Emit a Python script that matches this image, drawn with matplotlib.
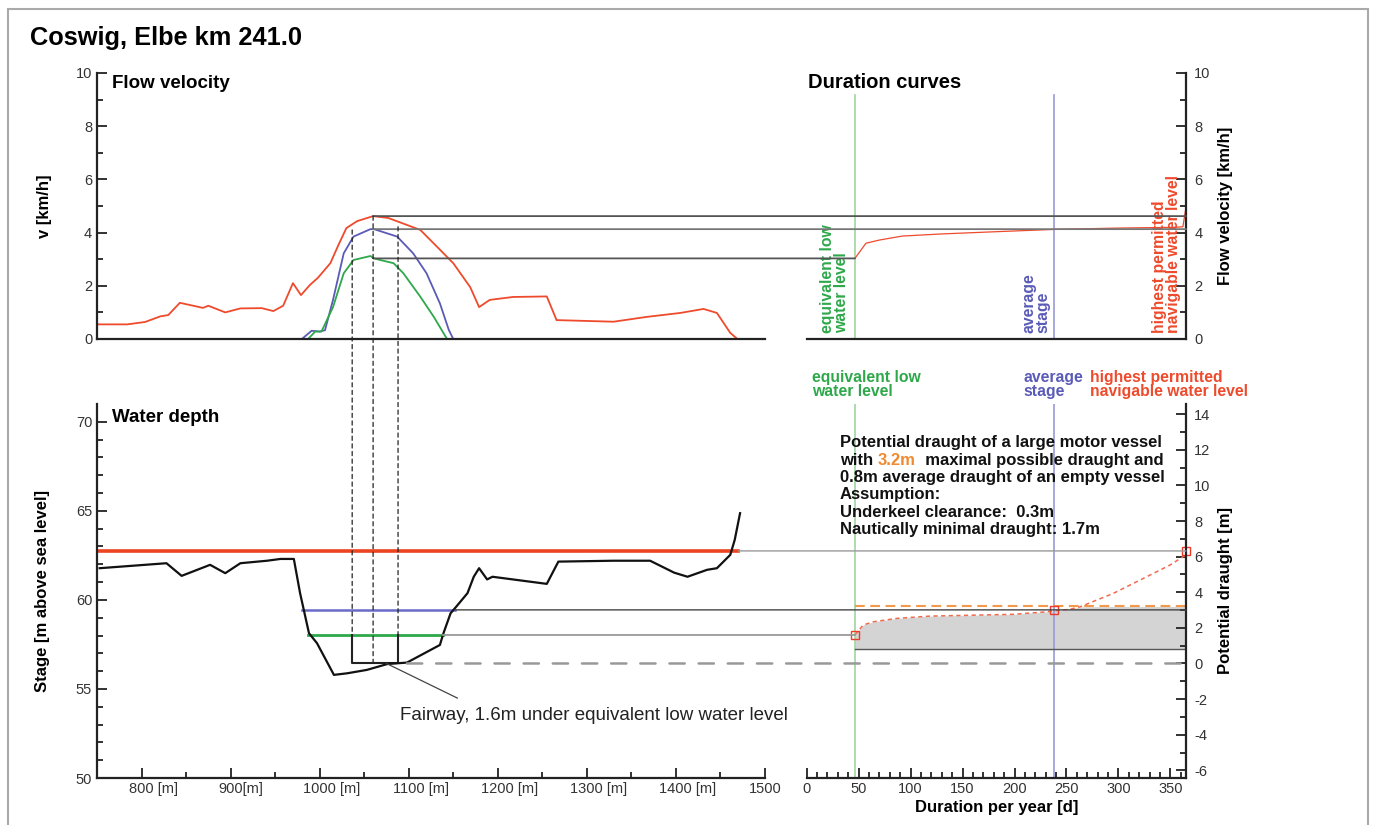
import numpy as np
import matplotlib
matplotlib.use("Agg")
import matplotlib.pyplot as plt
from matplotlib.patches import ConnectionPatch, Rectangle
from matplotlib.transforms import ScaledTranslation

plt.rcParams['font.family'] = ['Liberation Sans', 'DejaVu Sans']
plt.rcParams['lines.scale_dashes'] = False
plt.rcParams['axes.unicode_minus'] = False

# ---------------- data ----------------
# flow velocity across the section [m], [km/h]
hsw_x = [750, 784, 804, 821, 830, 843, 854, 869, 875, 894, 911, 935, 948, 959, 970, 979, 989, 998,
         1012, 1021, 1030, 1042, 1060, 1077, 1113, 1132, 1150, 1169, 1179, 1191, 1217, 1255, 1266,
         1330, 1367, 1405, 1431, 1446, 1461, 1469]
hsw_v = [0.55, 0.55, 0.64, 0.85, 0.9, 1.36, 1.28, 1.17, 1.25, 1.0, 1.15, 1.16, 1.05, 1.25, 2.1, 1.65,
         2.03, 2.3, 2.85, 3.53, 4.17, 4.43, 4.62, 4.55, 4.1, 3.46, 2.85, 1.95, 1.2, 1.47, 1.58, 1.6,
         0.71, 0.65, 0.83, 0.98, 1.13, 0.98, 0.23, 0.0]
mw_x = [980, 991, 1000, 1006, 1015, 1027, 1038, 1057, 1061, 1087, 1105, 1120, 1135, 1145, 1150]
mw_v = [0.0, 0.31, 0.28, 0.33, 1.47, 3.22, 3.85, 4.13, 4.13, 3.85, 3.22, 2.47, 1.34, 0.34, 0.0]
glw_x = [987, 995, 1002, 1015, 1027, 1038, 1057, 1061, 1068, 1083, 1094, 1113, 1128, 1143]
glw_v = [0.0, 0.28, 0.28, 1.2, 2.47, 2.97, 3.12, 3.03, 2.97, 2.85, 2.47, 1.59, 0.84, 0.0]

# river bed profile [m], [m above sea level]
bed_x = [753, 828, 845, 877, 894, 911, 941, 956, 971, 978, 988, 997, 1016, 1031, 1053, 1076, 1098,
         1135, 1139, 1147, 1154, 1166, 1173, 1179, 1188, 1194, 1255, 1268, 1330, 1371, 1398, 1413,
         1435, 1446, 1461, 1466, 1472]
bed_z = [61.78, 62.06, 61.35, 61.97, 61.5, 62.06, 62.2, 62.3, 62.3, 60.38, 58.13, 57.57, 55.79, 55.88,
         56.07, 56.4, 56.48, 57.47, 58.13, 59.25, 59.66, 60.38, 61.3, 61.78, 61.15, 61.3, 60.9, 62.15,
         62.2, 62.2, 61.53, 61.3, 61.69, 61.78, 62.53, 63.37, 64.87]

# water levels
hsw_stage, mw_stage, glw_stage = 62.75, 59.44, 58.03
fairway_bottom = 56.43
fairway_x = [1036.5, 1088]
hsw_extent = [750, 1470]
mw_extent = [980, 1152]
glw_extent = [987, 1138]
peak_x = 1060
section_x = [1036.5, 1060, 1088]
section_top = [4.1, 4.62, 4.22]
hsw_peak, mw_peak, glw_peak = 4.62, 4.13, 3.03

# duration curves [d]
glw_day, mw_day = 46.4, 237.8
dur_d = [46.4, 57, 70, 92, 130, 180, 237.8, 300, 355, 362, 365]
dur_v = [3.03, 3.6, 3.72, 3.87, 3.95, 4.03, 4.12, 4.17, 4.2, 4.22, 4.95]
dr_d = [46.4, 54.4, 64, 86.5, 118.6, 166.6, 198.5, 230.5, 237.8, 253, 263, 294.8, 326.8, 349.4, 365]
dr_h = [1.6, 2.16, 2.34, 2.53, 2.66, 2.72, 2.76, 2.9, 2.96, 3.04, 3.18, 3.93, 4.86, 5.52, 6.1]
max_draught, empty_draught = 3.2, 0.8
hsw_draught = 6.32

RED = '#ee4a2c'
BLUE = '#5a5ab8'
GREEN = '#2ea84a'
ORANGE = '#f39a4a'

W, H = 1375, 825


def rect(x0, y0, x1, y1):
    return [x0 / W, 1 - y1 / H, (x1 - x0) / W, (y1 - y0) / H]


def fx(px):
    return px / W


def fy(py):
    return 1 - py / H


fig = plt.figure(figsize=(W / 100, H / 100), dpi=100)
fig.add_artist(Rectangle((fx(8), -0.1), fx(1368 - 8), 1.1 - 9 / H, transform=fig.transFigure,
                         fill=False, ec='#aaaaaa', lw=1.5))
fig.text(fx(30), fy(38), 'Coswig, Elbe km 241.0', fontsize=18.3, weight='bold', va='center')

ax_tl = fig.add_axes(rect(97, 73, 765, 339))
ax_tr = fig.add_axes(rect(806.7, 73, 1186, 339))
ax_bl = fig.add_axes(rect(97, 404, 765, 778))
ax_br = fig.add_axes(rect(806.7, 404, 1186, 778))

for ax in (ax_tl, ax_tr, ax_bl, ax_br):
    ax.set_facecolor('none')
    ax.spines['top'].set_visible(False)
    for s in ax.spines.values():
        s.set_linewidth(1.6)
        s.set_color('#222222')
    ax.tick_params(which='both', direction='in', width=1.3, colors='#222222',
                   labelcolor='#333333', labelsize=10.5)
    ax.tick_params(which='major', length=7)
    ax.tick_params(which='minor', length=4)
for ax in (ax_tl, ax_bl):
    ax.spines['right'].set_visible(False)
    ax.set_xlim(750, 1500)
for ax in (ax_tr, ax_br):
    ax.spines['left'].set_visible(False)
    ax.set_xlim(0, 365)
    ax.yaxis.tick_right()
    ax.yaxis.set_label_position('right')
    ax.tick_params(axis='y', which='both', pad=6)

# ---- top left: flow velocity ----
ax_tl.set_ylim(0, 10)
ax_tl.set_yticks(range(0, 11, 2))
ax_tl.set_yticks(range(1, 10, 2), minor=True)
ax_tl.tick_params(axis='x', bottom=False, labelbottom=False)
ax_tl.plot(hsw_x, hsw_v, color=RED, lw=1.3)
ax_tl.plot(mw_x, mw_v, color=BLUE, lw=1.3)
ax_tl.plot(glw_x, glw_v, color=GREEN, lw=1.3)
ax_tl.set_ylabel('v [km/h]', fontsize=12, weight='bold')
ax_tl.yaxis.set_label_coords((52 - 97) / 668, 0.5)
fig.text(fx(112), fy(84), 'Flow velocity', fontsize=13.5, weight='bold', va='center')

# ---- top right: duration curve of velocity ----
ax_tr.set_ylim(0, 10)
ax_tr.set_yticks(range(0, 11, 2))
ax_tr.set_yticks(range(1, 10, 2), minor=True)
ax_tr.tick_params(axis='x', bottom=False, labelbottom=False)
ax_tr.plot([glw_day, glw_day], [0, 9.17], color='#9fd49f', lw=1.2)
ax_tr.plot([mw_day, mw_day], [0, 9.17], color='#9a9ad6', lw=1.2)
ax_tr.plot(dur_d, dur_v, color=RED, lw=0.9)
ax_tr.set_ylabel('Flow velocity [km/h]', fontsize=12, weight='bold')
ax_tr.yaxis.set_label_coords((1218 - 806.7) / 379.3, 0.5)
fig.text(fx(808), fy(82), 'Duration curves', fontsize=14.5, weight='bold', va='center')
vkw = dict(rotation=90, ha='right', va='bottom', multialignment='left', fontsize=11.3,
           weight='bold', linespacing=0.92)
ax_tr.text(40.5, 0.23, 'equivalent low\nwater level', color=GREEN, **vkw)
ax_tr.text(234.5, 0.23, 'average\nstage', color=BLUE, **vkw)
ax_tr.text(360.5, 0.23, 'highest permitted\nnavigable water level', color=RED, **vkw)

# ---- bottom left: water depth ----
ax_bl.set_ylim(50, 71)
ax_bl.set_yticks(range(50, 71, 5))
ax_bl.set_yticks([v for v in range(51, 71) if v % 5], minor=True)
xt = [800, 900, 1000, 1100, 1200, 1300, 1400, 1500]
xl = ['800 [m]', '900[m]', '1000 [m]', '1100 [m]', '1200 [m]', '1300 [m]', '1400 [m]', '1500']
ax_bl.set_xticks(xt)
ax_bl.set_xticklabels(xl)
ax_bl.set_xticks(range(750, 1500, 100), minor=True)
ax_bl.tick_params(axis='x', pad=3)
for lab in ax_bl.get_xticklabels():
    t = lab.get_text()
    off = 12 if ' [m]' in t else (10 if '[m]' in t else 0)
    lab.set_transform(lab.get_transform() + ScaledTranslation(off / 100, 0, fig.dpi_scale_trans))
ax_bl.plot(hsw_extent, [hsw_stage] * 2, color='#ec4420', lw=2.6)
ax_bl.plot(mw_extent, [mw_stage] * 2, color='#6a6ac8', lw=1.8)
ax_bl.plot(glw_extent, [glw_stage] * 2, color=GREEN, lw=2.0)
ax_bl.plot([fairway_x[0], fairway_x[0], fairway_x[1], fairway_x[1]],
           [glw_stage, fairway_bottom, fairway_bottom, glw_stage], color='#222222', lw=1.5)
ax_bl.plot(bed_x, bed_z, color='#111111', lw=1.6, clip_on=False)
ax_bl.plot([1075, 1154.5], [56.43, 54.49], color='#444444', lw=0.9)
ax_bl.text(1090, 53.5, 'Fairway, 1.6m under equivalent low water level', fontsize=13.5,
           va='center', color='#222222')
ax_bl.set_ylabel('Stage [m above sea level]', fontsize=12, weight='bold')
ax_bl.yaxis.set_label_coords((50 - 97) / 668, 0.5)
fig.text(fx(112), fy(417), 'Water depth', fontsize=13.5, weight='bold', va='center')

# ---- bottom right: potential draught ----
ax_br.set_ylim(50 - fairway_bottom, 71 - fairway_bottom)
ax_br.set_yticks(range(-6, 15, 2))
ax_br.set_yticks(range(-5, 15, 2), minor=True)
ax_br.set_xticks(range(0, 351, 50))
ax_br.set_xticks([d for d in range(10, 365, 10) if d % 50], minor=True)
ax_br.tick_params(axis='x', pad=3)
ax_br.set_xlabel('Duration per year [d]', fontsize=12, weight='bold', labelpad=3)
ax_br.set_ylabel('Potential draught [m]', fontsize=12, weight='bold')
ax_br.yaxis.set_label_coords((1218 - 806.7) / 379.3, 0.5)
ytop = 71 - fairway_bottom
ax_br.plot([glw_day, glw_day], [ax_br.get_ylim()[0], ytop], color='#9fd49f', lw=1.2)
ax_br.plot([mw_day, mw_day], [ax_br.get_ylim()[0], ytop], color='#9a9ad6', lw=1.2)
dr_d_a = np.array(dr_d)
dr_h_a = np.array(dr_h)
ax_br.fill_between(dr_d_a, empty_draught, np.minimum(dr_h_a, max_draught), color='#d4d4d4', lw=0)
ax_br.plot([glw_day, 365], [empty_draught] * 2, color='#555555', lw=1.0)
ax_br.plot([glw_day, 365], [max_draught] * 2, color=ORANGE, lw=1.5, dashes=(7, 4))
ax_br.plot(dr_d, dr_h, color='#f06a50', lw=1.1, dashes=(3, 2.5))
ax_br.plot([glw_day, mw_day, 365], [glw_stage - fairway_bottom, mw_stage - fairway_bottom, hsw_draught],
           ls='none', marker='s', ms=6, mfc='none', mec='#ee3a2a', mew=1.0, clip_on=False)

# labels above the draught panel
lkw = dict(fontsize=11.3, weight='bold', va='top', linespacing=0.92)
fig.text(fx(812), fy(370), 'equivalent low\nwater level', color=GREEN, **lkw)
fig.text(fx(1023), fy(370), 'average\nstage', color=BLUE, **lkw)
fig.text(fx(1090), fy(370), 'highest permitted\nnavigable water level', color=RED, **lkw)

# text block
tkw = dict(fontsize=12, weight='bold', va='center', color='#111111')
ys = [443, 460, 477.5, 495, 512.5, 529.5]
fig.text(fx(840), fy(ys[0]), 'Potential draught of a large motor vessel', **tkw)
t_with = fig.text(fx(840), fy(ys[1]), 'with ', **tkw)
fig.text(fx(840), fy(ys[2]), '0.8m average draught of an empty vessel', **tkw)
fig.text(fx(840), fy(ys[3]), 'Assumption:', **tkw)
fig.text(fx(840), fy(ys[4]), 'Underkeel clearance:  0.3m', **tkw)
fig.text(fx(840), fy(ys[5]), 'Nautically minimal draught: 1.7m', **tkw)
fig.canvas.draw()
x1 = t_with.get_window_extent().x1
t_num = fig.text(x1 / W, fy(ys[1]), '3.2m', **dict(tkw, color='#f08a30'))
fig.canvas.draw()
x2 = t_num.get_window_extent().x1
fig.text(x2 / W, fy(ys[1]), '  maximal possible draught and', **tkw)


# ---- lines across panels ----
def connect(axa, pa, axb, pb, **kw):
    cp = ConnectionPatch(xyA=pa, coordsA=axa.transData, xyB=pb, coordsB=axb.transData,
                         arrowstyle='-', shrinkA=0, shrinkB=0, **kw)
    fig.add_artist(cp)


connect(ax_tl, (peak_x, hsw_peak), ax_tr, (365, hsw_peak), color='#555555', lw=1.3)
connect(ax_tl, (peak_x, mw_peak), ax_tr, (365, mw_peak), color='#777777', lw=1.3)
connect(ax_tl, (peak_x, glw_peak), ax_tr, (glw_day, glw_peak), color='#555555', lw=1.3)
connect(ax_bl, (hsw_extent[1], hsw_stage), ax_br, (365, hsw_stage - fairway_bottom),
        color='#999999', lw=1.0)
connect(ax_bl, (mw_extent[1], mw_stage), ax_br, (365, mw_stage - fairway_bottom),
        color='#444444', lw=1.0)
connect(ax_bl, (glw_extent[1], glw_stage), ax_br, (glw_day, glw_stage - fairway_bottom),
        color='#999999', lw=1.3)
connect(ax_bl, (1098, fairway_bottom), ax_br, (365, 0), color='#999999', lw=1.8,
        linestyle=(0, (11, 10)))
for sx, st in zip(section_x, section_top):
    bottom = fairway_bottom if sx == peak_x else glw_stage
    connect(ax_tl, (sx, st), ax_bl, (sx, bottom), color='#222222', lw=0.9,
            linestyle=(0, (3, 2.5)))

fig.savefig('out.png', dpi=100)
